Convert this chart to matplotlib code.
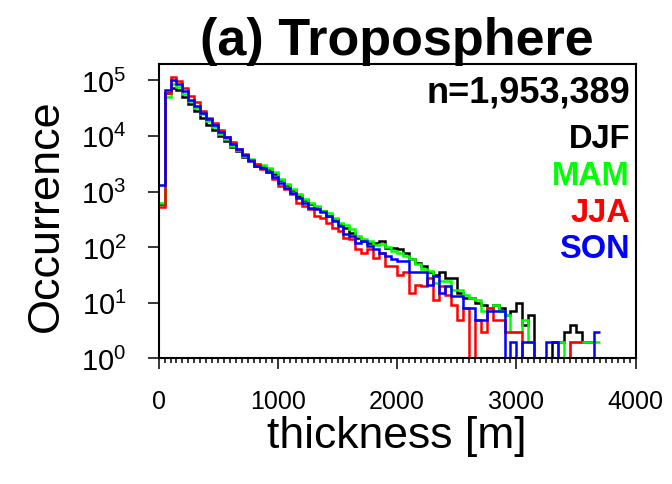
import numpy as np
from matplotlib import pyplot as plt

plt.rcParams['font.family'] = ['Liberation Sans', 'DejaVu Sans']
plt.rcParams['mathtext.fontset'] = 'custom'
plt.rcParams['mathtext.rm'] = 'Liberation Sans'
plt.rcParams['mathtext.it'] = 'Liberation Sans'

bin_width = 50  # m

# counts per 50 m thickness bin, starting at 0 m
djf = [600, 60000, 74000, 67000, 49000, 37000, 28000, 21000, 16000, 13000,
       10000, 8100, 6400, 5350, 4250, 3700, 2900, 2750, 2500, 2050,
       1580, 1290, 1050, 830, 690, 600, 530, 440, 360, 316,
       257, 224, 182, 148, 129, 120, 120, 129, 98, 98,
       93, 79, 62, 52, 46, 35, 32, 35, 28, 28,
       15, 12, 12, 10, 9, 8, 9, 8, 6, 7,
       10, 4, 6, 0, 0, 0, 2, 2, 3, 4,
       3, 2, 2]
mam = [630, 49000, 85000, 77000, 56000, 42000, 32000, 25000, 18500, 14500,
       11000, 8700, 6700, 5600, 4300, 3800, 3100, 2950, 2700, 2200,
       1660, 1350, 1100, 890, 720, 630, 550, 450, 410, 340,
       275, 245, 210, 160, 138, 129, 107, 115, 100, 85,
       79, 69, 60, 49, 40, 37, 23, 25, 25, 17,
       17, 14, 12, 11, 7, 8, 9, 7, 6, 3,
       3, 5, 2, 0, 0, 0, 0, 2, 0, 2,
       2, 2, 2, 2]
jja = [525, 60000, 116000, 97000, 74000, 52000, 40000, 28000, 21000, 17000,
       12600, 9700, 7700, 5900, 4650, 3700, 3100, 2500, 2200, 1700,
       1260, 1100, 890, 630, 550, 480, 360, 340, 275, 225,
       195, 148, 138, 91, 79, 91, 65, 79, 46, 45,
       31, 35, 15, 21, 20, 28, 11, 20, 14, 9,
       5, 8, 0, 5, 3, 8, 5, 5, 3, 3,
       3, 0, 0, 0, 0, 0, 0, 0, 0, 2,
       2]
son = [1300, 67000, 101000, 85000, 64000, 44000, 35000, 26000, 20000, 15500,
       11700, 9400, 7000, 5700, 4500, 3550, 2880, 2600, 2200, 1800,
       1450, 1180, 950, 780, 630, 510, 480, 420, 360, 295,
       240, 170, 160, 120, 128, 105, 91, 80, 70, 62,
       56, 56, 35, 35, 35, 21, 30, 15, 20, 13,
       13, 8, 8, 5, 5, 7, 7, 7, 0, 2,
       0, 2, 2, 0, 0, 2, 2, 0, 0, 0,
       0, 0, 0, 3]

seasons = ['DJF', 'MAM', 'JJA', 'SON']
colors = ['black', '#00ff00', '#ff0000', '#0000ff']
n_total = '1,953,389'

fig = plt.figure(figsize=(6.72, 4.85), dpi=100)
ax = fig.add_axes([0.236, 0.259, 0.710, 0.608])

for counts, color in zip([djf, mam, jja, son], colors):
    counts = np.array(counts, dtype=float)
    edges = np.arange(len(counts) + 1) * bin_width
    ax.stairs(counts, edges, baseline=None, color=color, linewidth=1.8)

ax.set_yscale('log')
ax.set_xlim(0, 4000)
ax.set_ylim(1, 2e5)
ax.set_xticks([0, 1000, 2000, 3000, 4000])
ax.set_xticks(np.arange(0, 4001, 50), minor=True)
ax.set_yticks([1, 10, 100, 1000, 10000, 100000])

for side in ['left', 'bottom', 'top', 'right']:
    ax.spines[side].set_linewidth(1.5)
ax.tick_params(which='both', direction='out', top=False, right=False,
               width=1.1)
ax.tick_params(which='major', length=8)
ax.tick_params(which='minor', length=3.6)
ax.tick_params(axis='x', which='major', labelsize=18, pad=14)
ax.tick_params(axis='y', which='major', labelsize=21, pad=15)

ax.set_xlabel('thickness [m]', fontsize=32)
ax.xaxis.set_label_coords(0.5, -0.263)
ax.xaxis.label.set_va('center')
ax.set_ylabel('Occurrence', fontsize=32.5)
ax.yaxis.set_label_coords(-0.236, 0.486)
ax.yaxis.label.set_va('center')

fig.text(397 / 672, 1 - 55 / 485, '(a) Troposphere', fontsize=37.5,
         fontweight='bold', ha='center', va='baseline')

ax.text(630 / 672, 1 - 103 / 485, 'n=' + n_total, transform=fig.transFigure,
        fontsize=26, fontweight='bold', ha='right', va='baseline')
baselines = [148, 185, 222, 258]
for name, color, yb in zip(seasons, colors, baselines):
    ax.text(630 / 672, 1 - yb / 485, name, transform=fig.transFigure,
            fontsize=23.5, fontweight='bold', color=color,
            ha='right', va='baseline')

fig.savefig('out.png', dpi=100)
